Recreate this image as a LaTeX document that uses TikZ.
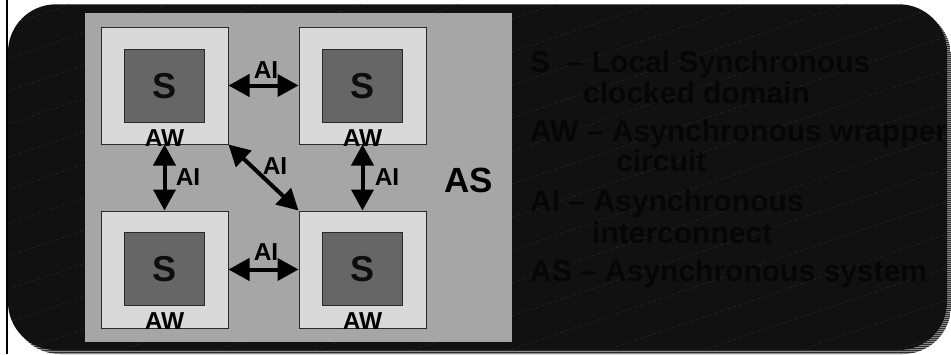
\documentclass[tikz,border=0pt]{standalone}
\usepackage{fontspec}
\setmainfont{Liberation Sans}
\usetikzlibrary{arrows.meta}

\definecolor{slidebg}{HTML}{111111}
\definecolor{slidetex}{HTML}{2C2C2C}
\definecolor{shadowlight}{HTML}{8A8A8A}
\definecolor{shadowdark}{HTML}{303030}
\definecolor{panelgray}{HTML}{A6A6A6}
\definecolor{wrapgray}{HTML}{D9D9D9}
\definecolor{syncgray}{HTML}{666666}
\definecolor{boxedge}{HTML}{2A2A2A}
\definecolor{legendink}{HTML}{060606}

\tikzset{
  wrapbox/.style={draw=boxedge, line width=1pt, fill=wrapgray,
    minimum width=127pt, minimum height=117pt, inner sep=0pt},
  syncbox/.style={draw=boxedge, line width=1pt, fill=syncgray,
    minimum width=80pt, minimum height=73pt, inner sep=0pt,
    font=\fontsize{36}{36}\selectfont\bfseries, text=black!95},
  wraplabel/.style={font=\fontsize{24.5}{24.5}\selectfont\bfseries, inner sep=0pt, anchor=base},
  linklabel/.style={font=\fontsize{24.5}{24.5}\selectfont\bfseries, inner sep=0pt},
  link/.style={line width=4pt, black,
    {Triangle[length=21pt,width=22pt]}-{Triangle[length=21pt,width=22pt]}},
  legend/.style={font=\fontsize{30}{30}\selectfont\bfseries, text=legendink,
    inner sep=0pt, anchor=base west},
}

\begin{document}
\begin{tikzpicture}[x=1pt,y=-1pt]
\useasboundingbox (0,0) rectangle (951,354);
\fill[white] (0,0) rectangle (951,354);

% striped drop shadow of the slide panel
\begin{scope}
  \clip[rounded corners=48pt] (12,8.5) rectangle (951,354);
  \fill[shadowlight] (0,0) rectangle (951,354);
  \foreach \yy in {8,10,...,354}
    \draw[shadowdark, line width=1pt] (0,\yy) -- (951,\yy);
\end{scope}

% dark slide panel with its faint diagonal texture
\fill[slidebg, rounded corners=48pt] (8,4.3) rectangle (947,350);
\begin{scope}
  \clip[rounded corners=48pt] (8,4.3) rectangle (947,350);
  \foreach \cc in {28,61,...,720}
    \draw[slidetex, line width=0.4pt, dash pattern=on 4pt off 2.5pt]
      (0,\cc) -- (951,\cc-323);
\end{scope}

% left rule
\draw[black, line width=2pt] (7,0) -- (7,354);

% asynchronous system area
\node[fill=panelgray, minimum width=427pt, minimum height=329.3pt, inner sep=0pt]
  (sys) at (298.5,177.35) {};
\node[font=\fontsize{35}{35}\selectfont\bfseries, inner sep=0pt] (aslabel) at (469,180) {AS};

% wrappers with their synchronous domains
\node[wrapbox] (aw1) at (164.5,85.5) {};
\node[wrapbox] (aw2) at (362.5,85.5) {};
\node[wrapbox] (aw3) at (164.5,269.5) {};
\node[wrapbox] (aw4) at (362.5,269.5) {};
\node[syncbox] (s1) at (164.3,85.7) {S};
\node[syncbox] (s2) at (362.8,85.7) {S};
\node[syncbox] (s3) at (164.3,269.3) {S};
\node[syncbox] (s4) at (362.8,269.3) {S};

% asynchronous interconnects
\draw[link] (aw1.east) -- (aw2.west);
\draw[link] (aw3.east) -- (aw4.west);
\draw[link] (aw1.south) -- (aw3.north);
\draw[link] (aw2.south) -- (aw4.north);
\draw[link] (aw1.south east) -- (aw4.north west);

\node[wraplabel] (w1) at ([yshift=-2pt]aw1.south) {AW};
\node[wraplabel] (w2) at ([yshift=-2pt]aw2.south) {AW};
\node[wraplabel] (w3) at ([yshift=-1pt]aw3.south) {AW};
\node[wraplabel] (w4) at ([yshift=-1pt]aw4.south) {AW};

\node[linklabel] (ai12) at (266,70.5) {AI};
\node[linklabel] (ai34) at (266,252.5) {AI};
\node[linklabel] (ai13) at (188,177.5) {AI};
\node[linklabel] (ai24) at (387,177.5) {AI};
\node[linklabel] (ai14) at (275,166.5) {AI};

% legend
\node[legend] (l1) at (530,72.3) {S\ \ – Local Synchronous};
\node[legend] (l2) at (583,103.3) {clocked domain};
\node[legend] (l3) at (530,141) {AW – Asynchronous wrapper};
\node[legend] (l4) at (616,171.7) {circuit};
\node[legend] (l5) at (530,211.7) {AI – Asynchronous};
\node[legend] (l6) at (592,243.3) {interconnect};
\node[legend] (l7) at (530,281.7) {AS – Asynchronous system};
\end{tikzpicture}
\end{document}
